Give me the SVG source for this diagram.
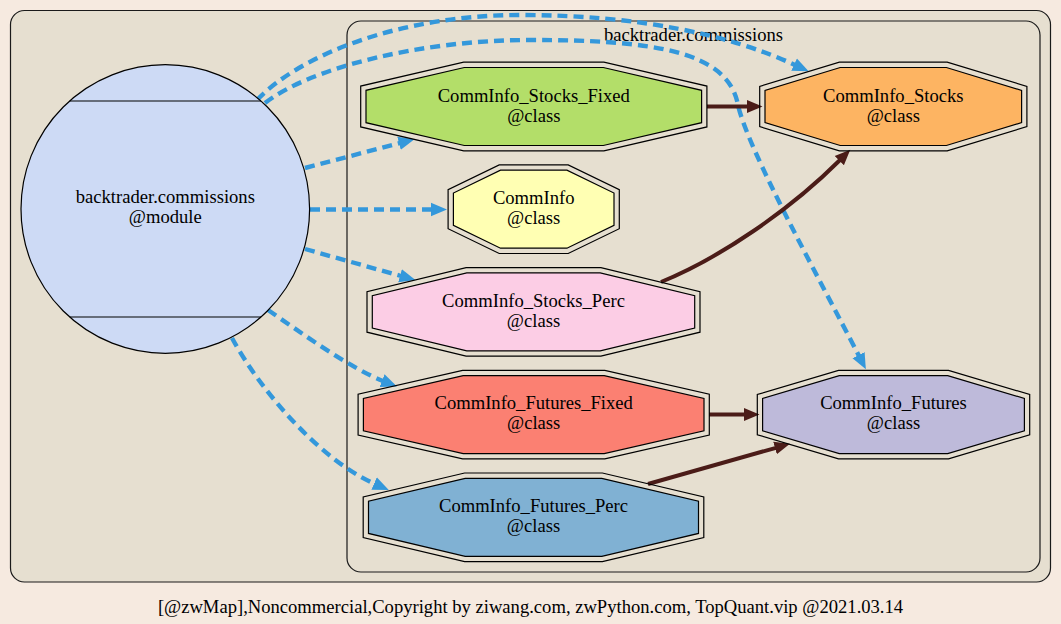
<svg xmlns="http://www.w3.org/2000/svg" width="1061" height="624" viewBox="0 0 1061 624">
<style>
text{font-family:"Liberation Serif","Times New Roman",serif;font-size:18.6px;fill:#000;text-anchor:middle}
.cl{fill:#e6dfd0;stroke:#1a1a1a;stroke-width:1.2}
.nd{stroke:#000;stroke-width:1.2}
.out{fill:none;stroke:#000;stroke-width:1.2}
.dep{fill:none;stroke:#3498db;stroke-width:4.4;stroke-dasharray:10,6}
.inh{fill:none;stroke:#4b1c18;stroke-width:4}
</style>
<defs>
<marker id="ab" markerUnits="userSpaceOnUse" markerWidth="18" markerHeight="16" viewBox="0 -8 18 16" refX="1" refY="0" orient="auto"><path d="M0,-6.8 L16,0 L0,6.8 z" fill="#3498db"/></marker>
<marker id="ai" markerUnits="userSpaceOnUse" markerWidth="18" markerHeight="16" viewBox="0 -8 18 16" refX="1" refY="0" orient="auto"><path d="M0,-6.5 L15.5,0 L0,6.5 z" fill="#4b1c18"/></marker>
</defs>
<rect x="0" y="0" width="1061" height="624" fill="#f6eae0"/>
<g id="cluster_outer"><rect class="cl" x="10.5" y="10.5" width="1040" height="571.5" rx="14"/></g>
<g id="cluster_commissions"><rect class="cl" x="347" y="21" width="693" height="551" rx="14"/>
<text x="693.5" y="41">backtrader.commissions</text></g>

<g id="edges">
<path class="dep" d="M257,100 C300,55 400,15 520,15 C640,15 730,35 795,65" marker-end="url(#ab)"/>
<path class="dep" d="M265,103 C310,68 420,40 530,40 C650,40 728,50 738,105 C748,150 820,280 859,356" marker-end="url(#ab)"/>
<path class="dep" d="M305,168 L400,143" marker-end="url(#ab)"/>
<path class="dep" d="M310,209.5 L432,209.5" marker-end="url(#ab)"/>
<path class="dep" d="M305,249 L401,276" marker-end="url(#ab)"/>
<path class="dep" d="M268,310 C300,332 350,368 383,381" marker-end="url(#ab)"/>
<path class="dep" d="M232,338 C260,390 320,460 375,484" marker-end="url(#ab)"/>
<path class="inh" d="M707,106.5 L748,106.5" marker-end="url(#ai)"/>
<path class="inh" d="M661,282 C720,258 790,210 840,160" marker-end="url(#ai)"/>
<path class="inh" d="M709,414.5 L745,414.5" marker-end="url(#ai)"/>
<path class="inh" d="M648,484 L776,447.8" marker-end="url(#ai)"/>
</g>

<g id="backtrader.commissions">
<circle cx="165.3" cy="209" r="144.3" fill="#cddaf5" stroke="#000" stroke-width="1.2"/>
<line x1="69.6" y1="101" x2="261" y2="101" stroke="#000" stroke-width="1.2"/>
<line x1="69.6" y1="317" x2="261" y2="317" stroke="#000" stroke-width="1.2"/>
<text x="165.3" y="203.3">backtrader.commissions</text>
<text x="165.3" y="223.3">@module</text>
</g>

<g id="CommInfo_Stocks_Fixed">
<polygon class="out" points="463.7,62.2 603.9,62.2 706.9,86.1 706.9,126.9 603.9,150.8 463.7,150.8 360.7,126.9 360.7,86.1"/>
<polygon class="nd" fill="#b3de69" points="464.3,67.5 603.3,67.5 701.6,90.35 701.6,122.65 603.3,145.5 464.3,145.5 366,122.65 366,90.35"/>
<text x="533.8" y="101.5">CommInfo_Stocks_Fixed</text>
<text x="533.8" y="121.5">@class</text>
</g>

<g id="CommInfo_Stocks">
<polygon class="out" points="839.4,62.2 947.2,62.2 1026.9,86.4 1026.9,126.6 947.2,150.8 839.4,150.8 759.7,126.6 759.7,86.4"/>
<polygon class="nd" fill="#fdb462" points="840.2,67.5 946.4,67.5 1021.6,90.35 1021.6,122.65 946.4,145.5 840.2,145.5 765,122.65 765,90.35"/>
<text x="893.3" y="101.5">CommInfo_Stocks</text>
<text x="893.3" y="121.5">@class</text>
</g>

<g id="CommInfo">
<polygon class="out" points="499.2,164.9 568.2,164.9 619.3,189.7 619.3,228.7 568.2,253.5 499.2,253.5 448.1,228.7 448.1,189.7"/>
<polygon class="nd" fill="#ffffb3" points="500.5,170.2 566.9,170.2 614,193.05 614,225.35 566.9,248.2 500.5,248.2 453.4,225.35 453.4,193.05"/>
<text x="533.7" y="203.7">CommInfo</text>
<text x="533.7" y="223.7">@class</text>
</g>

<g id="CommInfo_Stocks_Perc">
<polygon class="out" points="466.1,267.6 600.9,267.6 700,291.6 700,332.2 600.9,356.2 466.1,356.2 367,332.2 367,291.6"/>
<polygon class="nd" fill="#fccde5" points="466.8,272.9 600.2,272.9 694.7,295.75 694.7,328.05 600.2,350.9 466.8,350.9 372.3,328.05 372.3,295.75"/>
<text x="533.5" y="306.6">CommInfo_Stocks_Perc</text>
<text x="533.5" y="326.6">@class</text>
</g>

<g id="CommInfo_Futures_Fixed">
<polygon class="out" points="462.6,370.3 604.8,370.3 709.3,394.2 709.3,435 604.8,458.9 462.6,458.9 358.1,435 358.1,394.2"/>
<polygon class="nd" fill="#fb8072" points="463.2,375.6 604.2,375.6 704,398.45 704,430.75 604.2,453.6 463.2,453.6 363.4,430.75 363.4,398.45"/>
<text x="533.7" y="409.3">CommInfo_Futures_Fixed</text>
<text x="533.7" y="429.3">@class</text>
</g>

<g id="CommInfo_Futures">
<polygon class="out" points="838.5,370.3 948.5,370.3 1029.7,394.5 1029.7,434.7 948.5,458.9 838.5,458.9 757.3,434.7 757.3,394.5"/>
<polygon class="nd" fill="#bebada" points="839.3,375.6 947.7,375.6 1024.4,398.45 1024.4,430.75 947.7,453.6 839.3,453.6 762.6,430.75 762.6,398.45"/>
<text x="893.5" y="409.3">CommInfo_Futures</text>
<text x="893.5" y="429.3">@class</text>
</g>

<g id="CommInfo_Futures_Perc">
<polygon class="out" points="464.6,473 602.4,473 703.8,497 703.8,537.6 602.4,561.6 464.6,561.6 363.2,537.6 363.2,497"/>
<polygon class="nd" fill="#80b1d3" points="465.2,478.3 601.8,478.3 698.5,501.15 698.5,533.45 601.8,556.3 465.2,556.3 368.5,533.45 368.5,501.15"/>
<text x="533.5" y="511.5">CommInfo_Futures_Perc</text>
<text x="533.5" y="531.5">@class</text>
</g>

<text x="530.5" y="613">[@zwMap],Noncommercial,Copyright by ziwang.com, zwPython.com, TopQuant.vip @2021.03.14</text>
</svg>
